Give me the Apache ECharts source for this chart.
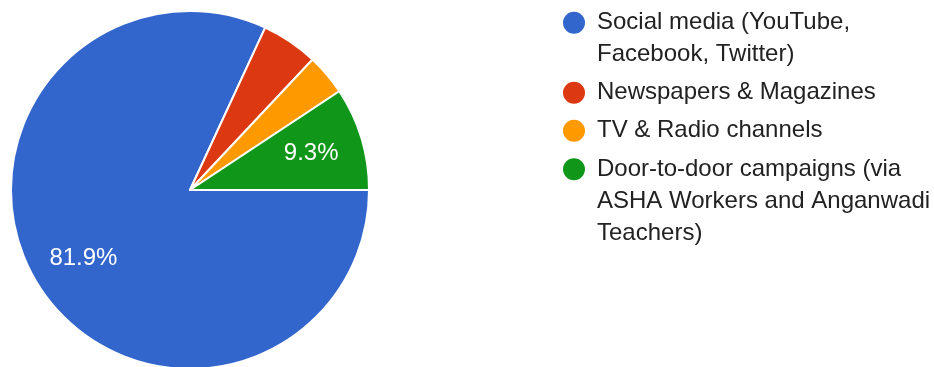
<!DOCTYPE html>
<html>
<head>
<meta charset="utf-8">
<script src="https://cdn.jsdelivr.net/npm/echarts@6/dist/echarts.min.js"></script>
<style>
html,body{margin:0;padding:0;background:#fff;}
#chart{width:934px;height:367px;}
</style>
</head>
<body>
<div id="chart"></div>
<script>
const categories = [
  "Social media (YouTube, Facebook, Twitter)",
  "Newspapers & Magazines",
  "TV & Radio channels",
  "Door-to-door campaigns (via ASHA Workers and Anganwadi Teachers)"
];
const values = [81.9, 5.1, 3.7, 9.3];
const legendLines = [
  ["Social media (YouTube,", "Facebook, Twitter)"],
  ["Newspapers & Magazines"],
  ["TV & Radio channels"],
  ["Door-to-door campaigns (via", "ASHA Workers and Anganwadi", "Teachers)"]
];
const colors = ["#3366cc", "#dc3912", "#ff9900", "#109618"];

const FONT = "'Liberation Sans', Arial, sans-serif";
const LH = 32;
const iconCenters = [22.7, 92.7, 130.7, 169.3];

const chart = echarts.init(document.getElementById('chart'), null, {renderer: 'canvas'});
const total = values.reduce((a, b) => a + b, 0);

const legends = categories.map((name, i) => {
  const n = legendLines[i].length;
  const blockH = (2 * n - 1) * LH;
  return {
    data: [name],
    orient: 'vertical',
    left: 561,
    top: iconCenters[i] - Math.max(blockH / 2, 12),
    padding: 0,
    icon: 'circle',
    itemWidth: 24,
    itemHeight: 24,
    selectedMode: false,
    formatter: () => ' \n'.repeat(n - 1) + legendLines[i].join('\n'),
    textStyle: {
      fontFamily: FONT,
      fontSize: 24,
      color: '#222222',
      lineHeight: LH,
      padding: [0, 0, 0, 6]
    }
  };
});

const pieData = categories.map((name, i) => ({
  name: name,
  value: values[i],
  itemStyle: {color: colors[i]}
}));

const labelData = categories.map((name, i) => ({
  name: name,
  value: values[i],
  label: {show: values[i] / total > 0.06}
}));

chart.setOption({
  animation: false,
  color: colors,
  legend: legends,
  series: [
    {
      type: 'pie',
      center: [190, 190],
      radius: [0, 179],
      startAngle: 0,
      clockwise: true,
      label: {show: false},
      labelLine: {show: false},
      emphasis: {disabled: true},
      itemStyle: {borderColor: '#ffffff', borderWidth: 2},
      data: pieData
    },
    {
      type: 'pie',
      center: [190, 190],
      radius: [68, 179],
      startAngle: 0,
      clockwise: true,
      silent: true,
      itemStyle: {color: 'rgba(0,0,0,0)'},
      labelLine: {show: false},
      emphasis: {disabled: true},
      label: {
        position: 'inside',
        formatter: (p) => p.value + '%',
        fontFamily: FONT,
        fontSize: 24,
        color: '#ffffff',
        textBorderWidth: 0
      },
      data: labelData
    }
  ]
});
</script>
</body>
</html>
